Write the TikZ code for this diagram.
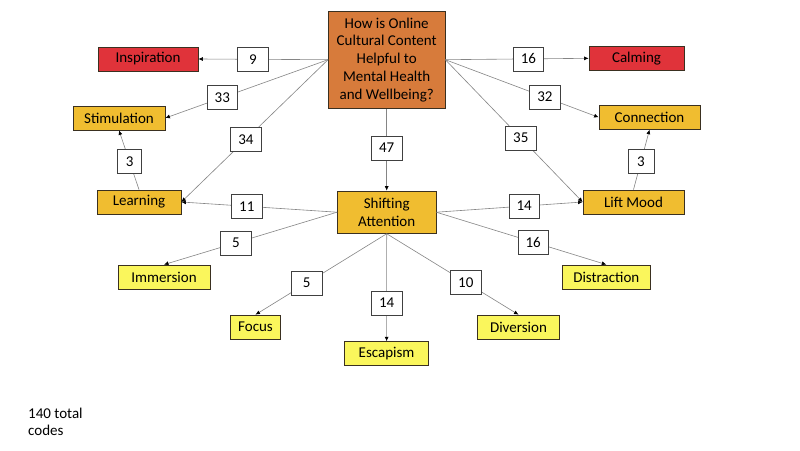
\documentclass[tikz,border=0pt]{standalone}
\usepackage{fontspec}
\setmainfont{Carlito}
\usetikzlibrary{arrows.meta}
\definecolor{cOrange}{HTML}{D77B3B}
\definecolor{cGold}{HTML}{F0BD30}
\definecolor{cRed}{HTML}{E0333A}
\definecolor{cYellow}{HTML}{FAF65C}
\definecolor{cLine}{HTML}{858585}
\definecolor{cBorder}{HTML}{3A3020}
\tikzset{
  base/.style={draw=cBorder, line width=0.8pt, inner sep=0pt, align=center,
    font=\fontsize{15}{17.7}\selectfont},
  mainbox/.style={base, fill=cOrange},
  redbox/.style={base, fill=cRed},
  goldbox/.style={base, fill=cGold},
  yelbox/.style={base, fill=cYellow},
  numbox/.style={draw=black!75, line width=0.7pt, fill=white, inner sep=0pt,
    minimum width=30.5pt, minimum height=24pt, font=\fontsize{15}{17.7}\selectfont},
  conn/.style={draw=cLine, line width=0.6pt},
  arr/.style={conn, -{Latex[length=4.5pt,width=4pt,color=black]}},
}
\begin{document}
\begin{tikzpicture}[x=1pt,y=-1pt]
\useasboundingbox[fill=white] (0,0) rectangle (800,450);

\node[mainbox, minimum width=116.5pt, minimum height=97.3pt] (main) at (386.7,59.7)
  {How is Online\\Cultural Content\\Helpful to\\Mental Health\\and Wellbeing?};
\node[redbox, minimum width=100pt, minimum height=24pt] (insp) at (148,59) {Inspiration};
\node[redbox, minimum width=95pt, minimum height=24.5pt] (calm) at (636.5,58.3) {Calming};
\node[goldbox, minimum width=92pt, minimum height=24pt] (stim) at (119,118) {Stimulation};
\node[goldbox, minimum width=101pt, minimum height=24pt] (connx) at (649.5,117.3) {Connection};
\node[goldbox, minimum width=84pt, minimum height=24pt] (learn) at (139,202) {Learning};
\node[goldbox, minimum width=101pt, minimum height=24pt] (lift) at (633.5,202) {Lift Mood};
\node[goldbox, minimum width=98.5pt, minimum height=42.3pt] (shift) at (386.7,212.2) {Shifting\\Attention};
\node[yelbox, minimum width=92pt, minimum height=24pt] (imm) at (164,277) {Immersion};
\node[yelbox, minimum width=87.4pt, minimum height=24pt] (dist) at (606.3,277) {Distraction};
\node[yelbox, minimum width=50.3pt, minimum height=24.3pt] (focus) at (255.5,327.2) {Focus};
\node[yelbox, minimum width=83.7pt, minimum height=24pt] (esc) at (386.6,353.7) {Escapism};
\node[yelbox, minimum width=82.2pt, minimum height=24.3pt] (div) at (518.5,327.2) {Diversion};

% connectors from the question
\draw[arr] (main.west) -- node[numbox, pos=0.58] (n9) {9} (insp.east);
\draw[arr] (main.west) -- node[numbox, pos=0.65] (n33) {33} (stim.east);
\draw[arr] (main.west) -- node[numbox, pos=0.56] (n34) {34} (learn.east);
\draw[arr] (main.south) -- node[numbox, pos=0.48] (n47) {47} (shift.north);
\draw[arr] (main.east) -- node[numbox, pos=0.58] (n16a) {16} (calm.west);
\draw[arr] (main.east) -- node[numbox, pos=0.65] (n32) {32} (connx.west);
\draw[arr] (main.east) -- node[numbox, pos=0.55] (n35) {35} (lift.west);

% sub-links
\draw[arr] (learn.north) -- node[numbox, minimum width=24pt, pos=0.47] (n3a) {3} (stim.south);
\draw[arr] (lift.north) -- node[numbox, minimum width=26pt, pos=0.47] (n3b) {3} (connx.south);

% from shifting attention
\draw[arr] (shift.west) -- node[numbox, pos=0.58] (n11) {11} (learn.east);
\draw[arr] (shift.east) -- node[numbox, pos=0.6] (n14a) {14} (lift.west);
\draw[arr] (shift.west) -- node[numbox, pos=0.585] (n5a) {5} (imm.north);
\draw[arr] (shift.east) -- node[numbox, pos=0.57] (n16b) {16} (dist.north);
\draw[arr] (shift.south) -- node[numbox, pos=0.61] (n5b) {5} (focus.north);
\draw[arr] (shift.south) -- node[numbox, pos=0.645] (n14b) {14} (esc.north);
\draw[arr] (shift.south) -- node[numbox, pos=0.6] (n10) {10} (div.north);

\node[anchor=north west, align=left, inner sep=0pt, font=\fontsize{15}{17}\selectfont]
  (total) at (28,408) {140 total\\codes};
\end{tikzpicture}
\end{document}
